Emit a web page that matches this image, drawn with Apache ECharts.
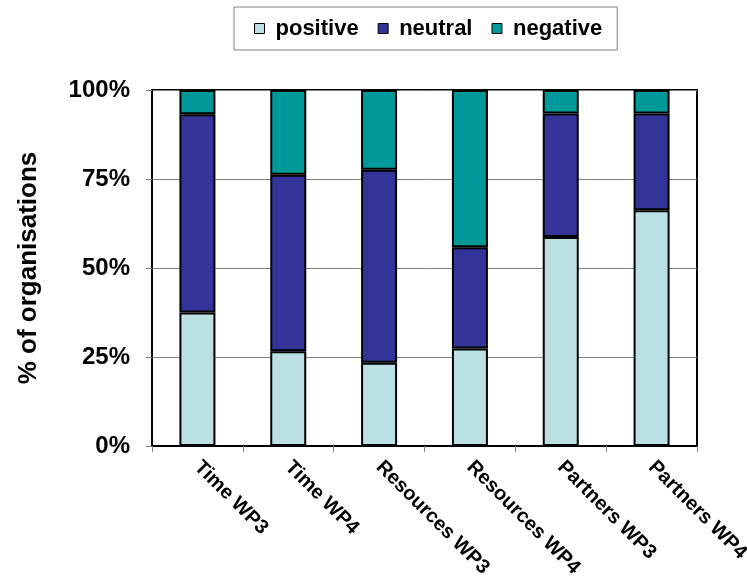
<!DOCTYPE html>
<html>
<head>
<meta charset="utf-8">
<script src="https://cdn.jsdelivr.net/npm/echarts@6/dist/echarts.min.js"></script>
<style>
  html, body { margin: 0; padding: 0; background: #fff; }
  #chart { width: 747px; height: 579px; }
</style>
</head>
<body>
<div id="chart"></div>
<script>
// Share of organisations per answer, in percent of each group
const categories = ['Time WP3', 'Time WP4', 'Resources WP3', 'Resources WP4', 'Partners WP3', 'Partners WP4'];
const positive = [37.5, 26.6, 23.4, 27.4, 58.7, 66.2];
const neutral  = [55.7, 49.6, 54.2, 28.4, 34.7, 27.2];
const negative = [6.8, 23.8, 22.4, 44.2, 6.6, 6.6];
const yTicks = [0, 25, 50, 75, 100];

const FONT = '"Liberation Sans", Arial, sans-serif';

const chart = echarts.init(document.getElementById('chart'), null, { renderer: 'canvas' });

function barSeries(name, data, color) {
  return {
    name: name,
    type: 'bar',
    stack: 'total',
    data: data,
    barWidth: 36,
    itemStyle: { color: color, borderColor: '#000', borderWidth: 2 },
    emphasis: { disabled: true }
  };
}

chart.setOption({
  animation: false,
  backgroundColor: '#fff',
  legend: {
    data: ['positive', 'neutral', 'negative'],
    left: 234,
    top: 7,
    orient: 'horizontal',
    padding: [10, 15, 10, 20],
    itemGap: 19,
    itemWidth: 10,
    itemHeight: 10,
    borderColor: '#808080',
    borderWidth: 1,
    icon: 'rect',
    itemStyle: { borderColor: '#000', borderWidth: 1 },
    textStyle: {
      fontFamily: FONT, fontWeight: 'bold', fontSize: 22, color: '#000',
      lineHeight: 23, padding: [0, 0, 0, 6]
    }
  },
  grid: {
    left: 152, top: 90, right: 50, bottom: 133,
    show: true, borderColor: '#000', borderWidth: 2,
    containLabel: false,
    outerBoundsMode: 'none'
  },
  xAxis: {
    type: 'category',
    data: categories,
    axisLine: { show: true, lineStyle: { color: '#000', width: 2 } },
    axisTick: { show: true, alignWithLabel: false, length: 6, lineStyle: { color: '#808080' } },
    axisLabel: {
      rotate: -45, margin: 18, interval: 0,
      fontFamily: FONT, fontWeight: 'bold', fontSize: 20, color: '#000'
    },
    splitLine: { show: false }
  },
  yAxis: {
    type: 'value',
    min: yTicks[0],
    max: yTicks[yTicks.length - 1],
    interval: 25,
    name: '% of organisations',
    nameLocation: 'middle',
    nameRotate: 90,
    nameGap: 110,
    nameTextStyle: { fontFamily: FONT, fontWeight: 'bold', fontSize: 26, color: '#000' },
    axisLine: { show: true, lineStyle: { color: '#000', width: 2 } },
    axisTick: { show: true, length: 6, lineStyle: { color: '#808080' } },
    axisLabel: {
      margin: 22,
      formatter: v => v + '%',
      fontFamily: FONT, fontWeight: 'bold', fontSize: 24, color: '#000'
    },
    splitLine: { show: true, lineStyle: { color: '#808080', width: 1 } }
  },
  series: [
    barSeries('positive', positive, '#BBE0E3'),
    barSeries('neutral', neutral, '#333399'),
    barSeries('negative', negative, '#009999')
  ]
});
</script>
</body>
</html>
